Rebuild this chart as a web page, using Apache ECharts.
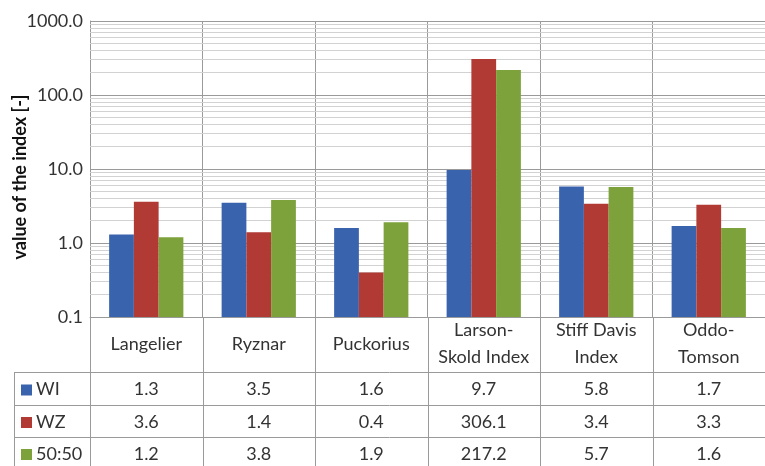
<!DOCTYPE html>
<html>
<head>
<meta charset="utf-8">
<script src="https://cdn.jsdelivr.net/npm/echarts/dist/echarts.min.js"></script>
<style>
  html, body { margin: 0; padding: 0; background: #fff; }
  #main { width: 765px; height: 466px; }
</style>
</head>
<body>
<div id="main"></div>
<script>
// data
const categories = ['Langelier', 'Ryznar', 'Puckorius', 'Larson-\nSkold Index', 'Stiff Davis\nIndex', 'Oddo-\nTomson'];
const seriesNames = ['WI', 'WZ', '50:50'];
const wiValues = [1.3, 3.5, 1.6, 9.7, 5.8, 1.7];
const wzValues = [3.6, 1.4, 0.4, 306.1, 3.4, 3.3];
const mixValues = [1.2, 3.8, 1.9, 217.2, 5.7, 1.6];
const yTicks = [0.1, 1, 10, 100, 1000];
const colors = ['#3a63ad', '#b13a35', '#7da23b'];

const font = 'Lato';
const textColor = '#333';
const majorLine = '#9a9a9a';
const minorLine = '#d2d2d2';

// minor log gridlines 2..9 in each decade
const minorLines = [];
yTicks.slice(0, -1).forEach(d => {
  for (let k = 2; k <= 9; k++) minorLines.push({ yAxis: d * k });
});

const chart = echarts.init(document.getElementById('main'));

const allValues = [wiValues, wzValues, mixValues];

const option = {
  animation: false,
  grid: { left: 90, top: 21, right: -9, bottom: 149 },
  xAxis: {
    type: 'category',
    data: categories,
    axisLine: { lineStyle: { color: majorLine } },
    axisTick: { show: false },
    splitLine: { show: true, lineStyle: { color: majorLine } },
    axisLabel: {
      margin: 27, verticalAlign: 'middle', lineHeight: 27,
      fontFamily: font, fontSize: 18, color: textColor, interval: 0
    }
  },
  yAxis: {
    type: 'log',
    logBase: 10,
    min: 0.1,
    max: 1000,
    startValue: 0.1,
    axisLine: { show: true, lineStyle: { color: majorLine } },
    axisTick: { show: false },
    axisLabel: {
      fontFamily: font, fontSize: 18, color: textColor, margin: 7,
      formatter: v => Number(v).toFixed(1)
    },
    splitLine: { lineStyle: { color: majorLine } }
  },
  series: seriesNames.map((name, i) => ({
    name: name,
    type: 'bar',
    data: allValues[i],
    barGap: '0%',
    barCategoryGap: '34%',
    itemStyle: { color: colors[i] },
    z: 3,
    markLine: i === 0 ? {
      silent: true,
      symbol: 'none',
      z: 1,
      label: { show: false },
      lineStyle: { color: minorLine, type: 'solid', width: 1 },
      data: minorLines
    } : undefined
  }))
};

chart.setOption(option);

// data table under the plot, columns aligned with the category axis
const tableLeft = 14;
const plotLeft = 90;
const headerBottom = 372;
const rowLines = [372, 405, 437, 469];
const cx = categories.map((c, i) => chart.convertToPixel({ xAxisIndex: 0 }, i));
const band = cx[1] - cx[0];
const right = cx[cx.length - 1] + band / 2;

const graphics = [];
const line = (x1, y1, x2, y2) => graphics.push({
  type: 'line', silent: true,
  shape: { x1, y1, x2, y2 },
  style: { stroke: majorLine, lineWidth: 1 }
});

rowLines.forEach(y => line(tableLeft, y + 0.5, right, y + 0.5));
line(tableLeft + 0.5, headerBottom, tableLeft + 0.5, 470);
line(plotLeft + 0.5, 317, plotLeft + 0.5, 470);
cx.forEach(x => line(Math.round(x + band / 2) + 0.5, 317, Math.round(x + band / 2) + 0.5, 470));

// axis title
graphics.push({
  type: 'text', silent: true,
  x: 20, y: 177, rotation: Math.PI / 2,
  style: {
    text: 'value of the index [-]', font: 'bold 18px ' + font, fill: '#111',
    textAlign: 'center', textVerticalAlign: 'middle'
  }
});

seriesNames.forEach((name, r) => {
  const yMid = (rowLines[r] + rowLines[r + 1]) / 2 + 1;
  graphics.push({
    type: 'rect', silent: true,
    shape: { x: 21, y: yMid - 5, width: 11, height: 11 },
    style: { fill: colors[r] }
  });
  graphics.push({
    type: 'text', silent: true,
    style: {
      text: name, x: 36, y: yMid, font: '18px ' + font, fill: textColor,
      textAlign: 'left', textVerticalAlign: 'middle'
    }
  });
  allValues[r].forEach((v, i) => {
    graphics.push({
      type: 'text', silent: true,
      style: {
        text: v.toFixed(1), x: cx[i], y: yMid, font: '18px ' + font, fill: textColor,
        textAlign: 'center', textVerticalAlign: 'middle'
      }
    });
  });
});

chart.setOption({ graphic: graphics });
</script>
</body>
</html>
